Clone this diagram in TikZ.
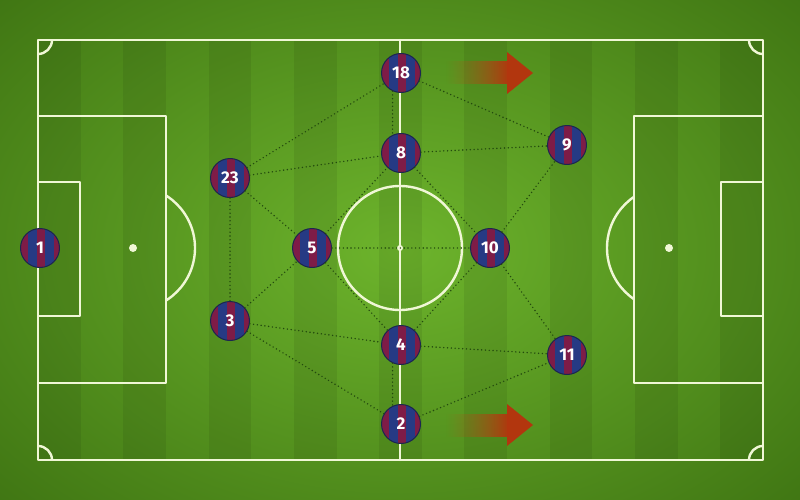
\documentclass[tikz,border=0pt]{standalone}
\usepackage{fontspec}
\setsansfont{Fira Sans}
\usetikzlibrary{fadings}
\definecolor{grasslight}{HTML}{6DB42C}
\definecolor{grassdark}{HTML}{3A6E10}
\definecolor{pitchline}{HTML}{F0F7D6}
\definecolor{passgreen}{HTML}{234A0E}
\definecolor{shirtblue}{HTML}{263A84}
\definecolor{shirtred}{HTML}{7E1C47}
\definecolor{shirtrim}{HTML}{1C2650}
\definecolor{runred}{HTML}{B2360E}
\definecolor{runolive}{HTML}{9A6A1C}
\tikzfading[name=arrowfade, left color=transparent!100, right color=transparent!0]
\begin{document}
\begin{tikzpicture}[x=1pt,y=-1pt,line join=round,line cap=round,
	chalk/.style={draw=pitchline,line width=2.4pt},
	pass/.style={draw=passgreen,line width=1.6pt,dash pattern=on 0pt off 3.8pt},
	player/.style={circle,minimum size=39pt,inner sep=0pt,draw=shirtrim,line width=1pt,
		text=white,font=\fontsize{17}{17}\selectfont\sffamily\bfseries,
		path picture={
			\fill[shirtred] (path picture bounding box.south west) rectangle (path picture bounding box.north east);
			\fill[shirtblue] ([xshift=7pt]path picture bounding box.south west) rectangle ([xshift=16pt]path picture bounding box.north west);
			\fill[shirtblue] ([xshift=24pt]path picture bounding box.south west) rectangle ([xshift=33pt]path picture bounding box.north west);}}]
	\useasboundingbox (0,0) rectangle (800,500);
	% grass
	\begin{scope}
		\clip (0,0) rectangle (800,500);
		\shade[inner color=grasslight,outer color=grassdark] (400,250) ellipse (620 and 420);
		\foreach \i in {0,2,...,16}
			\fill[black,opacity=0.07] ({38+\i*725/17},40) rectangle ({38+(\i+1)*725/17},460);
	\end{scope}
	% pitch markings
	\draw[chalk] (38,40) rectangle (763,460);
	\draw[chalk] (400,40) -- (400,460);
	\draw[chalk] (400,248) circle (62);
	\fill[pitchline] (400,248) circle (3);
	\draw[chalk] (38,116) rectangle (166,383);
	\draw[chalk] (38,182) rectangle (80,316);
	\draw[chalk] (634,116) rectangle (763,383);
	\draw[chalk] (721,182) rectangle (763,316);
	\fill[pitchline] (133,248) circle (4) (669,248) circle (4);
	\begin{scope}
		\clip (166,0) rectangle (634,500);
		\draw[chalk] (133,248) circle (62) (669,248) circle (62);
	\end{scope}
	\begin{scope}
		\clip (38,40) rectangle (763,460);
		\foreach \cx/\cy in {38/40,763/40,38/460,763/460}
			\draw[chalk] (\cx,\cy) circle (14);
	\end{scope}
	% runs
	\foreach \y in {73,425}{
		\shade[left color=runolive,right color=runred,path fading=arrowfade] (446,\y-11) rectangle (509,\y+11);
		\fill[runred] (507,\y-21) -- (533,\y) -- (507,\y+21) -- cycle;
	}
	% players
	\node[player] (p1) at (40,248) {1};
	\node[player] (p23) at (230,178) {23};
	\node[player] (p3) at (230,321) {3};
	\node[player] (p5) at (312,248) {5};
	\node[player] (p18) at (401,73) {18};
	\node[player] (p8) at (401,153) {8};
	\node[player] (p4) at (401,345) {4};
	\node[player] (p2) at (401,424) {2};
	\node[player] (p10) at (490,248) {10};
	\node[player] (p9) at (567,145) {9};
	\node[player] (p11) at (567,355) {11};
	% passing lanes
	\foreach \a/\b in {23/18,23/8,23/5,23/3,3/5,3/4,3/2,5/8,5/10,5/4,18/9,8/9,8/10,10/9,10/4,10/11,4/11,2/11}
		\draw[pass] (p\a) -- (p\b);
	\draw[pass] (p18.-115) -- (p8.115);
	\draw[pass] (p4.-115) -- (p2.115);
\end{tikzpicture}
\end{document}
